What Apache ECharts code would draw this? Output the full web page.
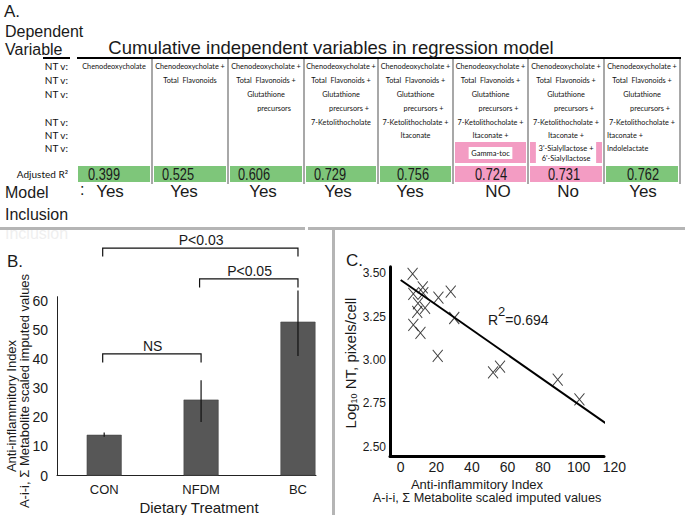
<!DOCTYPE html>
<html><head><meta charset="utf-8">
<script src="https://cdn.jsdelivr.net/npm/echarts@6/dist/echarts.min.js"></script>
<style>html,body{margin:0;padding:0;background:#fff}#c{width:685px;height:515px}</style>
</head><body><div id="c"></div>
<script>
// ---------- Panel A data ----------
const columnVariables = [
  ["Chenodeoxycholate"],
  ["Chenodeoxycholate +", "Total  Flavonoids"],
  ["Chenodeoxycholate +", "Total  Flavonoids +", "Glutathione", "precursors"],
  ["Chenodeoxycholate +", "Total  Flavonoids +", "Glutathione", "precursors +", "7-Ketolithocholate"],
  ["Chenodeoxycholate +", "Total  Flavonoids +", "Glutathione", "precursors +", "7-Ketolithocholate +", "Itaconate"],
  ["Chenodeoxycholate +", "Total  Flavonoids +", "Glutathione", "precursors +", "7-Ketolithocholate +", "Itaconate +", "Gamma-toc"],
  ["Chenodeoxycholate +", "Total  Flavonoids +", "Glutathione", "precursors +", "7-Ketolithocholate +", "Itaconate +", "3'-Sialyllactose +\n6'-Sialyllactose"],
  ["Chenodeoxycholate +", "Total  Flavonoids +", "Glutathione", "precursors +", "7-Ketolithocholate +", "Itaconate +", "Indolelactate"]
];
const adjustedR2 = ["0.399", "0.525", "0.606", "0.729", "0.756", "0.724", "0.731", "0.762"];
const modelInclusion = ["Yes", "Yes", "Yes", "Yes", "Yes", "NO", "No", "Yes"];
const ntRowLabels = ["NT v:", "NT v:", "NT v:", "", "NT v:", "NT v:", "NT v:"];

// ---------- Panel B data ----------
const treatments = ["CON", "NFDM", "BC"];
const indexMeans = [14.0, 26.1, 52.9];
const indexLow = [13.3, 18.4, 41.1];
const indexHigh = [14.8, 32.8, 63.6];
const bTicks = [0, 10, 20, 30, 40, 50, 60];
const compFrom = [0, 1, 0];
const compTo = [2, 2, 1];
const compLabels = ["P<0.03", "P<0.05", "NS"];

// ---------- Panel C data ----------
const aiiIndex = [6.7, 12.4, 7.1, 12.7, 9.7, 13.7, 9.3, 21.2, 28.1, 30.1, 7.1, 11.1, 20.8, 51.9, 55.8, 88.2, 100.4];
const log10NT  = [3.496, 3.419, 3.381, 3.385, 3.327, 3.300, 3.278, 3.360, 3.394, 3.242, 3.202, 3.156, 3.023, 2.929, 2.961, 2.886, 2.772];
const fitX = [0, 118];
const fitY = [3.461, 2.615];
const cXTicks = [0, 20, 40, 60, 80, 100, 120];
const cYTicks = [2.5, 2.75, 3.0, 3.25, 3.5];
const r2Text = "0.694";

// ---------- layout (positions / styles) ----------
const FONT = "'Liberation Sans', Arial, sans-serif";
const SMALL = "Lato, 'Liberation Sans', sans-serif";
const colEdges = [76, 152, 228, 304, 378, 453, 528, 604, 680];
const rowY = [66, 80, 94, 108, 122, 135, 148];
const r2Centers = [104, 178, 254, 330, 413, 491, 564, 643];
const inclCenters = [110, 184, 263, 338, 410, 498, 568, 643];
const bracketLevel = [78.2, 67.6, 41.8];
const bracketDrop = 2.9;
const GREEN = "#7ec67a", PINK = "#f39cc3";

const chart = echarts.init(document.getElementById('c'), null, {renderer: 'svg'});

function txt(x, y, text, size, extra) {
  extra = extra || {};
  const st = Object.assign({text: text, fontSize: size, fontFamily: FONT, fill: '#1a1a1a',
    textAlign: 'left', textVerticalAlign: 'middle'}, extra.style || {});
  const el = Object.assign({type: 'text', x: x, y: y, z: 10}, extra);
  el.style = st;
  return el;
}
function line(x1, y1, x2, y2, w, c) {
  return {type: 'line', z: 5, shape: {x1, y1, x2, y2}, style: {stroke: c || '#000', lineWidth: w || 1}};
}
function rect(x, y, w, h, fill, z) {
  return {type: 'rect', z: z || 1, shape: {x, y, width: w, height: h}, style: {fill: fill}};
}

const graphics = [];
// separators
graphics.push(txt(5, 233, "Inclusion", 16, {z: 0, style: {fill: '#efefef'}}));
graphics.push(rect(0, 227, 305, 3, '#b5b5b5', 3));
graphics.push(rect(308, 227, 377, 3, '#b5b5b5', 3));
graphics.push(rect(332, 230, 3, 285, '#b5b5b5', 3));

// Panel A headings
graphics.push(txt(4, 11, "A.", 17));
graphics.push(txt(5, 31, "Dependent", 16));
graphics.push(txt(5, 49, "Variable", 16));
graphics.push(txt(331, 47, "Cumulative independent variables in regression model", 18.5, {style: {textAlign: 'center'}}));
graphics.push(line(43, 58, 70, 58, 2));
graphics.push(line(77, 58, 681, 58, 2));
for (let i = 1; i < colEdges.length; i++) graphics.push(line(colEdges[i], 59, colEdges[i], 184, 2, '#a8a8a8'));
ntRowLabels.forEach((l, i) => { if (l) graphics.push(txt(68, rowY[i], l, 10, {style: {textAlign: 'right', fontFamily: SMALL, fill: '#111'}})); });
graphics.push(txt(68, 174, "Adjusted R²", 10, {style: {textAlign: 'right', fontFamily: SMALL, fill: '#111'}}));

columnVariables.forEach((vars, c) => {
  const L = colEdges[c], R = colEdges[c + 1], cx = (L + R) / 2;
  const excluded = modelInclusion[c].toLowerCase() === 'no';
  vars.forEach((v, r) => {
    if (r === 6 && excluded) {
      graphics.push(rect(L + 2, 142, R - L - 4, 21, PINK, 2));
      graphics.push(txt(cx, 153, v, 8.5, {scaleX: 0.88, style: {textAlign: 'center', fontFamily: SMALL, fill: '#111',
        backgroundColor: '#fff', padding: [1, 3, 1, 3], lineHeight: 10}}));
      return;
    }
    let x = cx, align = 'center';
    if (r === 3) { x = cx + 8; }
    if (c === 7 && r >= 5) { x = L + 3; align = 'left'; }
    graphics.push(txt(x, rowY[r], v, 8.5, {scaleX: 0.86, style: {textAlign: align, fontFamily: SMALL, fill: '#111'}}));
  });
  graphics.push(rect(L + 2, 166, R - L - 4, 16, excluded ? PINK : GREEN, 2));
  graphics.push(txt(r2Centers[c], 174, adjustedR2[c], 16, {scaleX: 0.8, style: {textAlign: 'center'}}));
  graphics.push(txt(inclCenters[c], 191, modelInclusion[c], 17, {style: {textAlign: 'center'}}));
});
graphics.push(txt(5, 192, "Model", 16));
graphics.push(txt(5, 214, "Inclusion", 16));
graphics.push(txt(80, 189, ":", 16));

// Panel B labels
graphics.push(txt(7, 261, "B.", 17));
graphics.push(txt(11, 406, "Anti-inflammitory Index", 13, {rotation: Math.PI / 2, style: {textAlign: 'center'}}));
graphics.push(txt(24, 391, "A-i-i, Σ Metabolite scaled imputed values", 13, {rotation: Math.PI / 2, style: {textAlign: 'center'}}));
graphics.push(txt(199, 507, "Dietary Treatment", 15, {style: {textAlign: 'center'}}));

// Panel C labels
graphics.push(txt(346, 260, "C.", 17));
graphics.push({type: 'text', x: 349, y: 363, rotation: Math.PI / 2, z: 10,
  style: {text: "{a|Log}{s|10}{a| NT, pixels/cell}", textAlign: 'center', textVerticalAlign: 'middle',
    rich: {a: {fontSize: 15, fontFamily: FONT, fill: '#1a1a1a', lineHeight: 18, verticalAlign: 'bottom'},
           s: {fontSize: 9, fontFamily: FONT, fill: '#1a1a1a', lineHeight: 18, verticalAlign: 'bottom'}}}});
graphics.push(txt(477, 484, "Anti-inflammitory Index", 13, {style: {textAlign: 'center'}}));
graphics.push(txt(487, 498, "A-i-i, Σ Metabolite scaled imputed values", 12.7, {style: {textAlign: 'center'}}));
graphics.push({type: 'text', x: 488, y: 316, z: 10,
  style: {text: "{a|R}{s|2}{a|=" + r2Text + "}", textAlign: 'left', textVerticalAlign: 'middle',
    rich: {a: {fontSize: 14, fontFamily: FONT, fill: '#1a1a1a', lineHeight: 22, verticalAlign: 'bottom'},
           s: {fontSize: 13, fontFamily: FONT, fill: '#1a1a1a', lineHeight: 22, verticalAlign: 'top'}}}});

const option = {
  animation: false,
  backgroundColor: '#fff',
  textStyle: {fontFamily: FONT},
  grid: [
    {left: 57, top: 296.7, width: 259, height: 178.8},
    {left: 390, top: 266.7, width: 214, height: 189.3},
    {left: 390, top: 266.7, width: 224.3, height: 189.3}
  ],
  xAxis: [
    {gridIndex: 0, type: 'value', min: -0.487, max: 2.186,
      axisLine: {show: true, onZero: false, lineStyle: {color: '#222', width: 1}}, axisTick: {show: false}, splitLine: {show: false},
      axisLabel: {customValues: [0, 1, 2], formatter: v => treatments[v] || '', fontSize: 13, color: '#1a1a1a', margin: 7}},
    {gridIndex: 1, type: 'value', min: -6, max: 114.2,
      axisLine: {show: true, onZero: false, lineStyle: {color: '#000', width: 3}}, axisTick: {show: false},
      splitLine: {show: false}, axisLabel: {show: false}},
    {gridIndex: 2, type: 'value', min: -6, max: 120,
      axisLine: {show: false}, axisTick: {show: false}, splitLine: {show: false},
      axisLabel: {customValues: cXTicks, fontSize: 14, color: '#1a1a1a', margin: 4}}
  ],
  yAxis: [
    {gridIndex: 0, type: 'value', min: 0, max: 61.5,
      axisLine: {show: true, onZero: false, lineStyle: {color: '#222', width: 1}}, axisTick: {show: false}, splitLine: {show: false},
      axisLabel: {customValues: bTicks, fontSize: 14, color: '#1a1a1a', margin: 9}},
    {gridIndex: 1, type: 'value', min: 2.446, max: 3.538,
      axisLine: {show: true, onZero: false, lineStyle: {color: '#000', width: 3}}, axisTick: {show: false},
      splitLine: {show: false},
      axisLabel: {customValues: cYTicks, formatter: v => v.toFixed(2), fontSize: 12, color: '#1a1a1a', margin: 4}},
    {gridIndex: 2, type: 'value', show: false, min: 0, max: 1}
  ],
  series: [
    {type: 'bar', xAxisIndex: 0, yAxisIndex: 0, barWidth: 35,
      data: indexMeans.map((v, i) => [i, v]),
      itemStyle: {color: '#575757', borderColor: '#444', borderWidth: 0.6}},
    {type: 'custom', xAxisIndex: 0, yAxisIndex: 0, z: 5,
      data: indexMeans.map((v, i) => [i, indexLow[i], indexHigh[i]]),
      renderItem: (params, api) => {
        const a = api.coord([api.value(0), api.value(1)]);
        const b = api.coord([api.value(0), api.value(2)]);
        return {type: 'line', shape: {x1: a[0], y1: a[1], x2: b[0], y2: b[1]}, style: {stroke: '#111', lineWidth: 1.2}};
      }},
    {type: 'custom', xAxisIndex: 0, yAxisIndex: 0, z: 5,
      data: compLabels.map((l, i) => [compFrom[i], compTo[i], bracketLevel[i]]),
      renderItem: (params, api) => {
        const i = params.dataIndex;
        const p1 = api.coord([api.value(0), api.value(2)]);
        const p2 = api.coord([api.value(1), api.value(2)]);
        const d1 = api.coord([api.value(0), api.value(2) - bracketDrop]);
        return {type: 'group', children: [
          {type: 'polyline', shape: {points: [[p1[0] - 1.5, d1[1]], [p1[0] - 1.5, p1[1]], [p2[0], p2[1]], [p2[0], d1[1]]]},
            style: {stroke: '#111', lineWidth: 1.2, fill: null}},
          {type: 'text', x: (p1[0] + p2[0]) / 2, y: p1[1] - 8,
            style: {text: compLabels[i], fontSize: 14, fontFamily: FONT, fill: '#1a1a1a', textAlign: 'center', textVerticalAlign: 'middle'}}
        ]};
      }},
    {type: 'line', xAxisIndex: 1, yAxisIndex: 1, data: fitX.map((x, i) => [x, fitY[i]]),
      showSymbol: false, symbol: 'none', lineStyle: {color: '#000', width: 2}, silent: true},
    {type: 'scatter', xAxisIndex: 1, yAxisIndex: 1, data: aiiIndex.map((x, i) => [x, log10NT[i]]),
      symbol: 'path://M0,0L10,12M10,0L0,12', symbolSize: [10, 12],
      itemStyle: {color: 'rgba(0,0,0,0)', borderColor: '#111', borderWidth: 1}}
  ],
  graphic: graphics
};
chart.setOption(option);
</script>
</body></html>
